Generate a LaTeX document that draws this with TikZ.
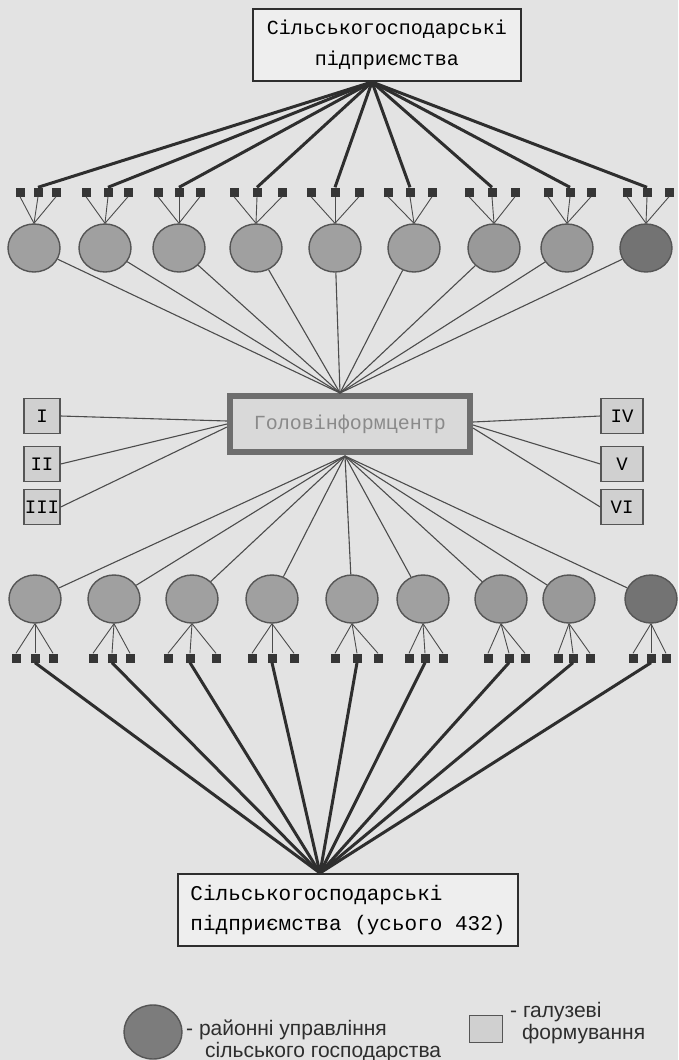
\documentclass[tikz,border=0pt]{standalone}
\usepackage{fontspec}
\setmonofont{Liberation Mono}
\newfontfamily\legfont{Liberation Sans}
\usetikzlibrary{shapes.geometric}
\definecolor{paper}{HTML}{E3E3E3}
\definecolor{ink}{HTML}{2E2E2E}
\definecolor{thinink}{HTML}{4C4C4C}
\definecolor{circfill}{HTML}{A0A0A0}
\definecolor{circdark}{HTML}{737373}
\definecolor{circedge}{HTML}{555555}
\definecolor{sqfill}{HTML}{363636}
\definecolor{hubedge}{HTML}{6E6E6E}
\definecolor{hubfill}{HTML}{D9D9D9}
\definecolor{hubtext}{HTML}{8A8A8A}
\definecolor{romfill}{HTML}{D0D0D0}
\tikzset{
  bigbox/.style={draw=ink, line width=2pt, fill=paper!60!white, inner sep=0pt},
  hubbox/.style={draw=hubedge, line width=6pt, fill=hubfill, minimum width=240pt, minimum height=56pt, inner sep=0pt,
     font=\ttfamily\fontsize{20}{24}\selectfont, text=hubtext},
  circ/.style={ellipse, draw=circedge, line width=1.4pt, fill=circfill, minimum width=52pt, minimum height=48pt, inner sep=0pt},
  sqr/.style={rectangle, fill=sqfill, minimum size=9pt, inner sep=0pt},
  romL/.style={rectangle, draw=circedge, line width=1.4pt, fill=romfill, minimum width=36pt, minimum height=35pt, inner sep=0pt,
     font=\ttfamily\fontsize{19}{20}\selectfont},
  romR/.style={romL, minimum width=42pt},
  thickln/.style={draw=ink, line width=3pt},
  thinln/.style={draw=thinink, line width=0.9pt},
  midln/.style={draw=thinink, line width=1.1pt},
  legtext/.style={anchor=west, inner sep=0pt, font=\legfont\fontsize{21}{24}\selectfont, text=ink}
}
\begin{document}
\begin{tikzpicture}[x=1pt,y=-1pt]
\useasboundingbox[fill=paper] (0,0) rectangle (678,1060);

% top box
\node[bigbox, minimum width=268pt, minimum height=72pt, align=center,
      font=\ttfamily\fontsize{20}{31}\selectfont] (top) at (387,45)
      {Сільськогосподарські\\підприємства};
\coordinate (tapex) at (372,82);

% top row: circles and squares
\foreach \i/\cx/\a/\b/\c/\f in {1/34/20/38/56/circfill,2/105/86/108/128/circfill,3/179/158/179/200/circfill,
   4/256/234/257/282/circfill,5/335/311/335/359/circfill,6/414/388/410/432/circfill,
   7/494/469/492/515/circfill!85!circdark,8/567/548/570/591/circfill!85!circdark,9/646/627/647/669/circdark}{
  \node[circ, fill=\f] (tc\i) at (\cx,248) {};
  \node[sqr] (ts\i-a) at (\a,192) {};
  \node[sqr] (ts\i-b) at (\b,192) {};
  \node[sqr] (ts\i-c) at (\c,192) {};
  \draw[thinln] (ts\i-a.south) -- (tc\i.north);
  \draw[thinln] (ts\i-b.south) -- (tc\i.north);
  \draw[thinln] (ts\i-c.south) -- (tc\i.north);
  \draw[thickln] (tapex) -- (ts\i-b.north);
}

% hub
\node[hubbox] (hub) at (350,424) {Головінформцентр};
\coordinate (hubT) at (340,393);
\coordinate (hubB) at (345,456);
\coordinate (hubL1) at (227,421);
\coordinate (hubL2) at (227,424);
\coordinate (hubL3) at (227,427);
\coordinate (hubR1) at (473,422);
\coordinate (hubR2) at (473,425);
\coordinate (hubR3) at (473,428);

\foreach \i in {1,...,9}{
  \draw[midln] (tc\i) -- (hubT);
}

% side boxes
\node[romL] (r1) at (42,416) {I};
\node[romL] (r2) at (42,464) {II};
\node[romL] (r3) at (42,507) {III};
\node[romR] (r4) at (622,416) {IV};
\node[romR] (r5) at (622,464) {V};
\node[romR] (r6) at (622,507) {VI};
\draw[midln] (r1.east) -- (hubL1);
\draw[midln] (r2.east) -- (hubL2);
\draw[midln] (r3.east) -- (hubL3);
\draw[midln] (r4.west) -- (hubR1);
\draw[midln] (r5.west) -- (hubR2);
\draw[midln] (r6.west) -- (hubR3);

% bottom box
\node[bigbox, minimum width=340pt, minimum height=72pt, align=left,
      font=\ttfamily\fontsize{21}{30}\selectfont] (bot) at (348,910)
      {Сільськогосподарські\\підприємства (усього 432)};
\coordinate (bapex) at (320,873);

% bottom row
\foreach \i/\cx/\a/\b/\c/\f in {1/35/16/35/53/circfill,2/114/93/112/130/circfill,3/192/168/190/216/circfill,
   4/272/252/272/294/circfill,5/352/335/357/378/circfill,6/423/409/425/443/circfill,
   7/501/488/509/525/circfill!85!circdark,8/569/558/573/590/circfill!85!circdark,9/651/633/651/666/circdark}{
  \node[circ, fill=\f] (bc\i) at (\cx,599) {};
  \node[sqr] (bs\i-a) at (\a,658) {};
  \node[sqr] (bs\i-b) at (\b,658) {};
  \node[sqr] (bs\i-c) at (\c,658) {};
  \draw[thinln] (bc\i.south) -- (bs\i-a.north);
  \draw[thinln] (bc\i.south) -- (bs\i-b.north);
  \draw[thinln] (bc\i.south) -- (bs\i-c.north);
  \draw[midln] (hubB) -- (bc\i);
  \draw[thickln] (bs\i-b.south) -- (bapex);
}

% legend
\node[circ, fill=circdark!80!circfill, minimum width=58pt, minimum height=54pt] (lc) at (153,1032) {};
\node[legtext] (lt1) at (186,1030) {- районні управління};
\node[legtext] (lt2) at (205,1052) {сільського господарства};
\node[rectangle, draw=circedge, line width=1pt, fill=romfill, minimum width=33pt, minimum height=27pt, inner sep=0pt] (ls) at (486,1029) {};
\node[legtext] (lt3) at (510,1012) {- галузеві};
\node[legtext] (lt4) at (522,1034) {формування};
\end{tikzpicture}
\end{document}
